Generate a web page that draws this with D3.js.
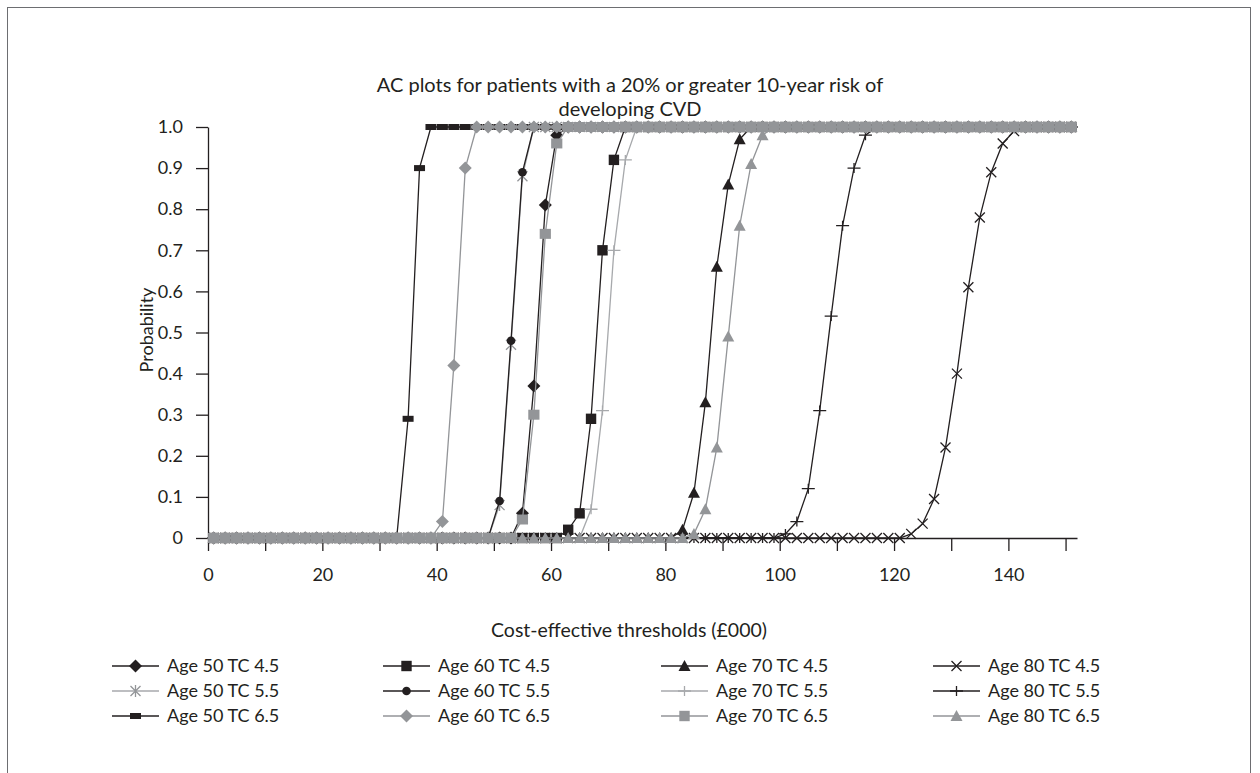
<!DOCTYPE html>
<html>
<head>
<meta charset="utf-8">
<script src="https://cdn.jsdelivr.net/npm/d3@7"></script>
<style>
  body { margin: 0; background: #fff; }
  svg { display: block; font-family: Lato, "Open Sans", sans-serif; }
</style>
</head>
<body>
<svg id="chart" width="1260" height="773"></svg>
<script>
// cost-effectiveness thresholds (£000), one point every 2k
const thresholds = [
	1, 3, 5, 7, 9, 11, 13, 15, 17, 19,
	21, 23, 25, 27, 29, 31, 33, 35, 37, 39,
	41, 43, 45, 47, 49, 51, 53, 55, 57, 59,
	61, 63, 65, 67, 69, 71, 73, 75, 77, 79,
	81, 83, 85, 87, 89, 91, 93, 95, 97, 99,
	101, 103, 105, 107, 109, 111, 113, 115, 117, 119,
	121, 123, 125, 127, 129, 131, 133, 135, 137, 139,
	141, 143, 145, 147, 149, 151
];

const age50tc45 = [
	0, 0, 0, 0, 0, 0, 0, 0, 0, 0,
	0, 0, 0, 0, 0, 0, 0, 0, 0, 0,
	0, 0, 0, 0, 0, 0, 0, 0.06, 0.37, 0.81,
	0.98, 1, 1, 1, 1, 1, 1, 1, 1, 1,
	1, 1, 1, 1, 1, 1, 1, 1, 1, 1,
	1, 1, 1, 1, 1, 1, 1, 1, 1, 1,
	1, 1, 1, 1, 1, 1, 1, 1, 1, 1,
	1, 1, 1, 1, 1, 1
];
const age60tc45 = [
	0, 0, 0, 0, 0, 0, 0, 0, 0, 0,
	0, 0, 0, 0, 0, 0, 0, 0, 0, 0,
	0, 0, 0, 0, 0, 0, 0, 0, 0, 0,
	0, 0.02, 0.06, 0.29, 0.7, 0.92, 1, 1, 1, 1,
	1, 1, 1, 1, 1, 1, 1, 1, 1, 1,
	1, 1, 1, 1, 1, 1, 1, 1, 1, 1,
	1, 1, 1, 1, 1, 1, 1, 1, 1, 1,
	1, 1, 1, 1, 1, 1
];
const age70tc45 = [
	0, 0, 0, 0, 0, 0, 0, 0, 0, 0,
	0, 0, 0, 0, 0, 0, 0, 0, 0, 0,
	0, 0, 0, 0, 0, 0, 0, 0, 0, 0,
	0, 0, 0, 0, 0, 0, 0, 0, 0, 0,
	0, 0.02, 0.11, 0.33, 0.66, 0.86, 0.97, 1, 1, 1,
	1, 1, 1, 1, 1, 1, 1, 1, 1, 1,
	1, 1, 1, 1, 1, 1, 1, 1, 1, 1,
	1, 1, 1, 1, 1, 1
];
const age80tc45 = [
	0, 0, 0, 0, 0, 0, 0, 0, 0, 0,
	0, 0, 0, 0, 0, 0, 0, 0, 0, 0,
	0, 0, 0, 0, 0, 0, 0, 0, 0, 0,
	0, 0, 0, 0, 0, 0, 0, 0, 0, 0,
	0, 0, 0, 0, 0, 0, 0, 0, 0, 0,
	0, 0, 0, 0, 0, 0, 0, 0, 0, 0,
	0, 0.01, 0.035, 0.095, 0.22, 0.4, 0.61, 0.78, 0.89, 0.96,
	0.99, 1, 1, 1, 1, 1
];
const age50tc55 = [
	0, 0, 0, 0, 0, 0, 0, 0, 0, 0,
	0, 0, 0, 0, 0, 0, 0, 0, 0, 0,
	0, 0, 0, 0, 0, 0.08, 0.47, 0.88, 1, 1,
	1, 1, 1, 1, 1, 1, 1, 1, 1, 1,
	1, 1, 1, 1, 1, 1, 1, 1, 1, 1,
	1, 1, 1, 1, 1, 1, 1, 1, 1, 1,
	1, 1, 1, 1, 1, 1, 1, 1, 1, 1,
	1, 1, 1, 1, 1, 1
];
const age60tc55 = [
	0, 0, 0, 0, 0, 0, 0, 0, 0, 0,
	0, 0, 0, 0, 0, 0, 0, 0, 0, 0,
	0, 0, 0, 0, 0, 0.09, 0.48, 0.89, 1, 1,
	1, 1, 1, 1, 1, 1, 1, 1, 1, 1,
	1, 1, 1, 1, 1, 1, 1, 1, 1, 1,
	1, 1, 1, 1, 1, 1, 1, 1, 1, 1,
	1, 1, 1, 1, 1, 1, 1, 1, 1, 1,
	1, 1, 1, 1, 1, 1
];
const age70tc55 = [
	0, 0, 0, 0, 0, 0, 0, 0, 0, 0,
	0, 0, 0, 0, 0, 0, 0, 0, 0, 0,
	0, 0, 0, 0, 0, 0, 0, 0, 0, 0,
	0, 0, 0, 0.07, 0.31, 0.7, 0.92, 1, 1, 1,
	1, 1, 1, 1, 1, 1, 1, 1, 1, 1,
	1, 1, 1, 1, 1, 1, 1, 1, 1, 1,
	1, 1, 1, 1, 1, 1, 1, 1, 1, 1,
	1, 1, 1, 1, 1, 1
];
const age80tc55 = [
	0, 0, 0, 0, 0, 0, 0, 0, 0, 0,
	0, 0, 0, 0, 0, 0, 0, 0, 0, 0,
	0, 0, 0, 0, 0, 0, 0, 0, 0, 0,
	0, 0, 0, 0, 0, 0, 0, 0, 0, 0,
	0, 0, 0, 0, 0, 0, 0, 0, 0, 0,
	0.01, 0.04, 0.12, 0.31, 0.54, 0.76, 0.9, 0.98, 1, 1,
	1, 1, 1, 1, 1, 1, 1, 1, 1, 1,
	1, 1, 1, 1, 1, 1
];
const age50tc65 = [
	0, 0, 0, 0, 0, 0, 0, 0, 0, 0,
	0, 0, 0, 0, 0, 0, 0, 0.29, 0.9, 1,
	1, 1, 1, 1, 1, 1, 1, 1, 1, 1,
	1, 1, 1, 1, 1, 1, 1, 1, 1, 1,
	1, 1, 1, 1, 1, 1, 1, 1, 1, 1,
	1, 1, 1, 1, 1, 1, 1, 1, 1, 1,
	1, 1, 1, 1, 1, 1, 1, 1, 1, 1,
	1, 1, 1, 1, 1, 1
];
const age60tc65 = [
	0, 0, 0, 0, 0, 0, 0, 0, 0, 0,
	0, 0, 0, 0, 0, 0, 0, 0, 0, 0,
	0.04, 0.42, 0.9, 1, 1, 1, 1, 1, 1, 1,
	1, 1, 1, 1, 1, 1, 1, 1, 1, 1,
	1, 1, 1, 1, 1, 1, 1, 1, 1, 1,
	1, 1, 1, 1, 1, 1, 1, 1, 1, 1,
	1, 1, 1, 1, 1, 1, 1, 1, 1, 1,
	1, 1, 1, 1, 1, 1
];
const age70tc65 = [
	0, 0, 0, 0, 0, 0, 0, 0, 0, 0,
	0, 0, 0, 0, 0, 0, 0, 0, 0, 0,
	0, 0, 0, 0, 0, 0, 0, 0.045, 0.3, 0.74,
	0.96, 1, 1, 1, 1, 1, 1, 1, 1, 1,
	1, 1, 1, 1, 1, 1, 1, 1, 1, 1,
	1, 1, 1, 1, 1, 1, 1, 1, 1, 1,
	1, 1, 1, 1, 1, 1, 1, 1, 1, 1,
	1, 1, 1, 1, 1, 1
];
const age80tc65 = [
	0, 0, 0, 0, 0, 0, 0, 0, 0, 0,
	0, 0, 0, 0, 0, 0, 0, 0, 0, 0,
	0, 0, 0, 0, 0, 0, 0, 0, 0, 0,
	0, 0, 0, 0, 0, 0, 0, 0, 0, 0,
	0, 0, 0.01, 0.07, 0.22, 0.49, 0.76, 0.91, 0.98, 1,
	1, 1, 1, 1, 1, 1, 1, 1, 1, 1,
	1, 1, 1, 1, 1, 1, 1, 1, 1, 1,
	1, 1, 1, 1, 1, 1
];

const xTicks = [0, 10, 20, 30, 40, 50, 60, 70, 80, 90, 100, 110, 120, 130, 140, 150];
const yTicks = [0, 0.1, 0.2, 0.3, 0.4, 0.5, 0.6, 0.7, 0.8, 0.9, 1.0];

const BLACK = '#231f20';
const GREY = '#939598';
const LIGHT = '#a7a9ac';

// order = excel series order (legend reads row by row)
const series = [
	{ name: 'Age 50 TC 4.5', values: age50tc45, line: BLACK, marker: 'diamond', fill: BLACK },
	{ name: 'Age 60 TC 4.5', values: age60tc45, line: BLACK, marker: 'square', fill: BLACK },
	{ name: 'Age 70 TC 4.5', values: age70tc45, line: BLACK, marker: 'triangle', fill: BLACK },
	{ name: 'Age 80 TC 4.5', values: age80tc45, line: BLACK, marker: 'x', fill: BLACK },
	{ name: 'Age 50 TC 5.5', values: age50tc55, line: LIGHT, marker: 'asterisk', fill: GREY },
	{ name: 'Age 60 TC 5.5', values: age60tc55, line: BLACK, marker: 'circle', fill: BLACK },
	{ name: 'Age 70 TC 5.5', values: age70tc55, line: LIGHT, marker: 'plus', fill: LIGHT },
	{ name: 'Age 80 TC 5.5', values: age80tc55, line: BLACK, marker: 'plus', fill: BLACK },
	{ name: 'Age 50 TC 6.5', values: age50tc65, line: BLACK, marker: 'bar', fill: BLACK },
	{ name: 'Age 60 TC 6.5', values: age60tc65, line: GREY, marker: 'diamond', fill: GREY },
	{ name: 'Age 70 TC 6.5', values: age70tc65, line: GREY, marker: 'bigsquare', fill: GREY },
	{ name: 'Age 80 TC 6.5', values: age80tc65, line: GREY, marker: 'triangle', fill: GREY }
];

// marker shapes, drawn around 0,0
function markerPath(type) {
	switch (type) {
		case 'diamond': return 'M0,-6.5L6.5,0L0,6.5L-6.5,0Z';
		case 'square': return 'M-5.2,-5.2H5.2V5.2H-5.2Z';
		case 'bigsquare': return 'M-5.6,-5H5.6V5H-5.6Z';
		case 'bar': return 'M-5.5,-3H5.5V3H-5.5Z';
		case 'circle': return 'M4.3,0A4.3,4.3 0 1,1 -4.3,0A4.3,4.3 0 1,1 4.3,0Z';
		case 'triangle': return 'M0,-6L6,5H-6Z';
		case 'x': return 'M-5,-5L5,5M-5,5L5,-5';
		case 'plus': return 'M-6.5,0H6.5M0,-5V5';
		case 'asterisk': return 'M-5,-5L5,5M-5,5L5,-5M0,-6V6';
	}
	return '';
}
function isStroked(type) {
	return type === 'x' || type === 'plus' || type === 'asterisk';
}

var svg = d3.select('#chart');

// outer frame
svg.append('rect')
	.attr('x', 7.5)
	.attr('y', 7.5)
	.attr('width', 1243)
	.attr('height', 820)
	.attr('fill', 'none')
	.attr('stroke', '#6d6e71')
	.attr('stroke-width', 1);

var x = d3.scaleLinear().domain([0, 152]).range([208, 1077]);
var y = d3.scaleLinear().domain([0, 1]).range([538, 127]);

// title
svg.append('text')
	.attr('x', 630)
	.attr('y', 92)
	.attr('text-anchor', 'middle')
	.attr('font-size', 20)
	.attr('fill', BLACK)
	.text('AC plots for patients with a 20% or greater 10-year risk of');
svg.append('text')
	.attr('x', 630)
	.attr('y', 116)
	.attr('text-anchor', 'middle')
	.attr('font-size', 20)
	.attr('fill', BLACK)
	.text('developing CVD');

// axes
var yAxis = d3.axisLeft(y)
	.tickValues(yTicks)
	.tickSize(12)
	.tickSizeOuter(0)
	.tickPadding(13)
	.tickFormat(function(d) {
		return d === 0 ? '0' : d3.format('.1f')(d);
	});
var gy = svg.append('g')
	.attr('transform', 'translate(208,0)')
	.call(yAxis);

var xAxis = d3.axisBottom(x)
	.tickValues(xTicks)
	.tickSize(13)
	.tickSizeOuter(0)
	.tickPadding(17)
	.tickFormat(function(d) {
		return d % 20 === 0 ? d : '';
	});
var gx = svg.append('g')
	.attr('transform', 'translate(0,538)')
	.call(xAxis);

[gx, gy].forEach(function(g) {
	g.selectAll('path, line').attr('stroke', BLACK).attr('stroke-width', 1.3);
	g.selectAll('text')
		.attr('fill', BLACK)
		.attr('font-size', 18)
		.attr('font-family', 'Lato, "Open Sans", sans-serif');
});

// axis titles
svg.append('text')
	.attr('transform', 'translate(153,330) rotate(-90)')
	.attr('text-anchor', 'middle')
	.attr('font-size', 18)
	.attr('fill', BLACK)
	.text('Probability');
svg.append('text')
	.attr('x', 629)
	.attr('y', 637)
	.attr('text-anchor', 'middle')
	.attr('font-size', 19.5)
	.attr('fill', BLACK)
	.text('Cost-effective thresholds (£000)');

// series lines + markers
var line = d3.line()
	.x(function(d) { return x(d[0]); })
	.y(function(d) { return y(d[1]); });

var plot = svg.append('g');
series.forEach(function(s) {
	var pts = thresholds.map(function(t, i) { return [t, s.values[i]]; });
	var g = plot.append('g');
	g.append('path')
		.attr('d', line(pts))
		.attr('fill', 'none')
		.attr('stroke', s.line)
		.attr('stroke-width', 1.3);
	g.selectAll('path.mk')
		.data(pts)
		.enter()
		.append('path')
		.attr('class', 'mk')
		.attr('transform', function(d) { return `translate(${x(d[0])},${y(d[1])})`; })
		.attr('d', markerPath(s.marker))
		.attr('fill', isStroked(s.marker) ? 'none' : s.fill)
		.attr('stroke', isStroked(s.marker) ? s.fill : 'none')
		.attr('stroke-width', 1.3);
});

// legend, 4 columns x 3 rows
var legX = [112, 383, 661, 933];
var legY = [666, 691, 716];
var leg = svg.append('g');
series.forEach(function(s, i) {
	var cx = legX[i % 4];
	var cy = legY[Math.floor(i / 4)];
	var item = leg.append('g').attr('transform', `translate(${cx},${cy})`);
	item.append('line')
		.attr('x1', 0)
		.attr('x2', 47)
		.attr('stroke', s.line)
		.attr('stroke-width', 1.3);
	item.append('path')
		.attr('transform', 'translate(23.5,0)')
		.attr('d', markerPath(s.marker === 'bigsquare' ? 'square' : s.marker))
		.attr('fill', isStroked(s.marker) ? 'none' : s.fill)
		.attr('stroke', isStroked(s.marker) ? s.fill : 'none')
		.attr('stroke-width', 1.3);
	item.append('text')
		.attr('x', 55)
		.attr('dy', '0.35em')
		.attr('font-size', 18)
		.attr('fill', BLACK)
		.text(s.name);
});
</script>
</body>
</html>
